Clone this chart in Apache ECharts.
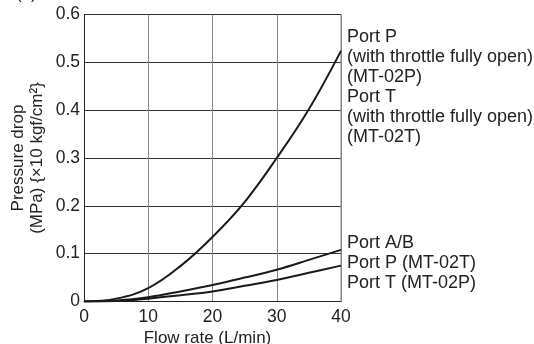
<!DOCTYPE html>
<html>
<head>
<meta charset="utf-8">
<script src="https://cdn.jsdelivr.net/npm/echarts@6/dist/echarts.min.js"></script>
<style>
html,body{margin:0;padding:0;background:#fff;}
#chart{width:534px;height:344px;}
</style>
</head>
<body>
<div id="chart"></div>
<script>
// Data
var flowRates = [0, 5, 10, 15, 20, 25, 30, 35, 40];
var portPThrottleOpen = [0, 0.006, 0.028, 0.074, 0.135, 0.208, 0.300, 0.402, 0.524];
var portAB = [0, 0.002, 0.009, 0.021, 0.0345, 0.050, 0.0665, 0.087, 0.108];
var portPT = [0, 0.001, 0.006, 0.013, 0.021, 0.033, 0.045, 0.060, 0.075];
var xTicks = [0, 10, 20, 30, 40];
var yTicks = [0, 0.1, 0.2, 0.3, 0.4, 0.5, 0.6];
var upperLabel = ['Port P', '(with throttle fully open)', '(MT-02P)', 'Port T', '(with throttle fully open)', '(MT-02T)'];
var lowerLabel = ['Port A/B', 'Port P (MT-02T)', 'Port T (MT-02P)'];
var partialTitle = '(a)';

function pairs(xs, ys) { return xs.map(function (x, i) { return [x, ys[i]]; }); }

var FONT = "'Liberation Sans', Arial, Helvetica, sans-serif";
var TXT = '#222';
var chart = echarts.init(document.getElementById('chart'), null, {renderer: 'canvas'});

function lineSeries(ys) {
  return {
    type: 'line', data: pairs(flowRates, ys), smooth: 0.4, symbol: 'none',
    lineStyle: {color: '#1a1a1a', width: 2}, z: 5
  };
}

var option = {
  animation: false,
  grid: {left: 84, right: 193, top: 14.5, bottom: 42.5, show: false, containLabel: false, outerBoundsMode: 'none'},
  xAxis: {
    type: 'value', min: 0, max: 40, interval: 10,
    name: 'Flow rate (L/min)', nameLocation: 'middle', nameGap: 28, nameMoveOverlap: false,
    nameTextStyle: {fontFamily: FONT, fontSize: 17, color: TXT, padding: [0, 10, 0, 0]},
    axisLine: {show: true, onZero: false, lineStyle: {color: '#222', width: 1}},
    axisTick: {show: false},
    axisLabel: {fontFamily: FONT, fontSize: 17.5, color: TXT, margin: 7,
      formatter: function (v) { return xTicks.indexOf(v) >= 0 ? String(v) : ''; }},
    splitLine: {show: true, lineStyle: {color: '#858585', width: 1}}
  },
  yAxis: {
    type: 'value', min: 0, max: 0.6, interval: 0.1,
    name: 'Pressure drop\n(MPa) {×10 kgf/cm²}', nameLocation: 'middle', nameGap: 37, nameRotate: 90, nameMoveOverlap: false,
    nameTextStyle: {fontFamily: FONT, fontSize: 17, color: TXT, lineHeight: 19, align: 'center'},
    axisLine: {show: true, onZero: false, lineStyle: {color: '#222', width: 1}},
    axisTick: {show: false},
    axisLabel: {fontFamily: FONT, fontSize: 17.5, color: TXT, margin: 4,
      formatter: function (v) {
        var r = Math.round(v * 10) / 10;
        return yTicks.indexOf(r) >= 0 ? (r === 0 ? '0' : r.toFixed(1)) : '';
      }},
    splitLine: {show: true, lineStyle: {color: '#333', width: 1}}
  },
  series: [lineSeries(portPThrottleOpen), lineSeries(portAB), lineSeries(portPT)],
  graphic: [
    {type: 'text', left: 347, top: 26.7, style: {text: upperLabel.join('\n'), font: '18px ' + FONT, lineHeight: 20, fill: TXT}},
    {type: 'text', left: 347, top: 233.3, style: {text: lowerLabel.join('\n'), font: '18px ' + FONT, lineHeight: 20, fill: TXT}},
    {type: 'text', left: 16, top: -15, style: {text: partialTitle, font: '17px ' + FONT, lineHeight: 19, fill: TXT}},
    {type: 'line', shape: {x1: 341, y1: 14.5, x2: 341, y2: 301.5}, style: {stroke: '#858585', lineWidth: 1}, z: 1}
  ]
};
chart.setOption(option);
</script>
</body>
</html>
